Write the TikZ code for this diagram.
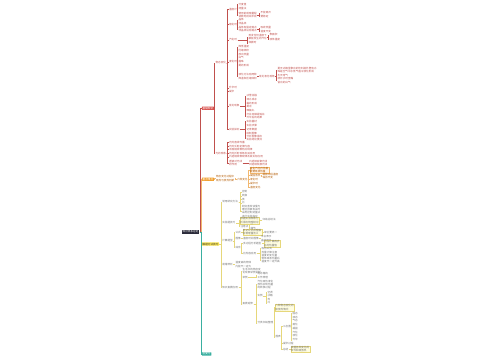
\documentclass[tikz,border=0pt]{standalone}
\usepackage{fontspec}
\newfontfamily\cjk{Noto Sans CJK SC}
\usetikzlibrary{positioning}
\definecolor{redline}{HTML}{C0504D}
\definecolor{redfill}{HTML}{D9534F}
\definecolor{orgfill}{HTML}{F0A030}
\definecolor{orgline}{HTML}{F2B870}
\definecolor{yelfill}{HTML}{F5E04A}
\definecolor{yelline}{HTML}{E6D77A}
\definecolor{tealline}{HTML}{3AAFA0}
\definecolor{rootfill}{HTML}{2B2B3A}
\tikzset{
  every node/.style={font=\cjk\fontsize{2.6}{3.2}\selectfont, inner sep=0.4pt, anchor=west, align=left},
  rootbox/.style={fill=rootfill, text=white, inner xsep=1pt, inner ysep=0.5pt},
  topbox/.style={fill=#1, text=white, inner xsep=0.8pt, rounded corners=0.3pt},
  rtx/.style={text=redline},
  otx/.style={text=orange!70!black},
  obx/.style={text=orange!70!black, fill=orange!8, draw=orgline, line width=0.15pt},
  ytx/.style={text=black!55},
  ybx/.style={text=black!55, fill=yellow!12, draw=yelline, line width=0.15pt},
  rl/.style={draw=redline, line width=0.3pt},
  ol/.style={draw=orgline, line width=0.3pt},
  yl/.style={draw=yelline, line width=0.3pt},
  tl/.style={draw=tealline, line width=0.4pt},
}
% parent -> children, elbow one point left of the children
\newcommand\links[3]{\foreach \kid in {#3}{%
  \path (\kid.west) ++(-1,0) coordinate (sp);
  \path[#1] (#2.east) -- (sp |- #2.east) |- (\kid.west);}}

\begin{document}
\begin{tikzpicture}[x=1pt,y=-1pt]
\useasboundingbox (0,0) rectangle (500,360);
% root and main branches
\node[rootbox] (root) at (181.5,232) {知识体系总览};
\node[topbox=redfill] (r) at (201.7,108.3) {基础知识};
\node[topbox=orgfill] (o) at (201.7,179.3) {重点难点};
\node[topbox=yelfill, text=black!75] (y) at (201.7,244) {解题方法技巧};
\node[topbox=tealline] (g) at (201.7,354) {总复习};
\links{ol}{root}{o}
\links{yl}{root}{y}
\links{rl, line width=0.45pt}{root}{r}
\links{tl}{root}{g}

% red branch
\node[rtx] (ra) at (215,62.7) {物态变化};
\node[rtx] (rb) at (215,153.3) {光的现象};
\links{rl}{r}{ra,rb}
\node[rtx] (ra1) at (228.5,9.3) {温度计};
\node[rtx] (ra2) at (228.5,24.3) {熔化时};
\node[rtx] (ra3) at (228.5,40) {汽化时};
\node[rtx] (ra4) at (228.5,61.7) {液化时};
\node[rtx] (ra5) at (228.5,88) {升华时};
\node[rtx] (ra6) at (228.5,91.5) {凝华};
\node[rtx] (ra7) at (228.5,106) {常见现象};
\node[rtx] (ra8) at (228.5,129.3) {实验探究};
\links{rl}{ra}{ra1,ra2,ra3,ra4,ra5,ra6,ra7,ra8}
% thermometer
\node[rtx] (ra11) at (238,4.3) {分度值};
\node[rtx] (ra12) at (238,8.3) {测量法};
\node[rtx] (ra13) at (238,15) {使用前观察量程\\读数时视线平视};
\links{rl}{ra1}{ra11,ra12,ra13}
\node[rtx] (ra131) at (260,12.7) {不能离开};
\node[rtx] (ra132) at (260,16.3) {要稳定};
\links{rl}{ra13}{ra131,ra132}
% melting
\node[rtx] (ra21) at (238,20) {晶体};
\node[rtx] (ra22) at (238,24) {非晶体};
\node[rtx] (ra23) at (238,29.3) {晶体有固定熔点\\非晶体没有熔点};
\links{rl}{ra2}{ra21,ra22,ra23}
\node[rtx] (ra231) at (260,27.7) {吸收热量};
\node[rtx] (ra232) at (260,31.3) {温度不变};
\links{rl}{ra23}{ra231,ra232}
% boiling
\node[rtx] (ra31) at (248,36.7) {蒸发任何温度下\\都能发生的汽化};
\node[rtx] (ra32) at (248,42.7) {沸腾时};
\links{rl}{ra3}{ra31,ra32}
\node[rtx] (ra311) at (269,35) {表面积};
\node[rtx] (ra312) at (269,39.3) {液体温度};
\links{rl}{ra31}{ra311,ra312}
% liquefying
\node[rtx] (ra41) at (238,46.7) {降低温度};
\node[rtx] (ra42) at (238,50.7) {压缩体积};
\node[rtx] (ra43) at (238,54.2) {放出热量};
\node[rtx] (ra44) at (238,57.9) {白气};
\node[rtx] (ra45) at (238,61.7) {露珠};
\node[rtx] (ra46) at (238,65.7) {雾的形成};
\node[rtx] (ra47) at (238,76.5) {液化方法有两种\\降温和压缩体积};
\links{rl}{ra4}{ra41,ra42,ra43,ra44,ra45,ra46,ra47}
\node[rtx] (ra471) at (258.5,76.5) {常见液化现象};
\links{rl}{ra47}{ra471}
\node[rtx] (ra4711) at (277,70) {夏天冰箱里拿出的饮料瓶外壁有水\\珠是空气中水蒸气遇冷液化形成};
\node[rtx] (ra4712) at (277,75.5) {冬天哈气};
\node[rtx] (ra4713) at (277,80.5) {烧开水时壶嘴\\冒出的白气};
\links{rl}{ra471}{ra4711,ra4712,ra4713}
% phenomena
\node[rtx] (ra71) at (246,95.7) {冰雪消融};
\node[rtx] (ra72) at (246,99.7) {滴水成冰};
\node[rtx] (ra73) at (246,103.3) {霜的形成};
\node[rtx] (ra74) at (246,106.9) {雾凇};
\node[rtx] (ra75) at (246,110.5) {樟脑丸};
\node[rtx] (ra76) at (246,116) {灯丝变细是钨丝\\升华后的结果};
\links{rl}{ra7}{ra71,ra72,ra73,ra74,ra75,ra76}
% experiment
\node[rtx] (ra81) at (246,121) {实验器材};
\node[rtx] (ra82) at (246,125) {实验步骤};
\node[rtx] (ra83) at (246,129.3) {记录数据};
\node[rtx] (ra84) at (246,133.3) {绘制图像};
\node[rtx] (ra85) at (246,137.8) {分析图像得出\\实验结论要点};
\links{rl}{ra8}{ra81,ra82,ra83,ra84,ra85}
% light
\node[rtx] (rb1) at (228.5,142.3) {光的直线传播};
\node[rtx] (rb2) at (228.5,146) {光的反射定律内容};
\node[rtx] (rb3) at (228.5,149.5) {平面镜成像特点规律};
\node[rtx] (rb4) at (228.5,153.1) {光的折射现象及其应用};
\node[rtx] (rb5) at (228.5,156.8) {凸透镜成像规律及其实际应用};
\node[rtx] (rb6) at (228.5,163.3) {透镜对光线\\的作用};
\links{rl}{rb}{rb1,rb2,rb3,rb4,rb5,rb6}
\node[rtx] (rb61) at (248.5,163.3) {凸透镜会聚光线\\凹透镜发散光线};
\links{rl}{rb6}{rb61}

% orange branch
\node[otx] (o1) at (215.5,178.5) {物态变化过程中\\吸热与放热判断};
\links{ol}{o}{o1}
\node[otx] (o11) at (236.5,179.3) {六种变化};
\links{ol}{o1}{o11}
\node[obx] (o111) at (249.5,170.3) {熔化汽化升华都\\需要吸收热量};
\node[otx] (o112) at (249.5,175.3) {凝固放热};
\node[otx] (o113) at (249.5,179.3) {液化时};
\node[otx] (o114) at (249.5,183.3) {凝华时};
\node[otx] (o115) at (249.5,187.3) {温度变化};
\links{ol}{o11}{o111,o112,o113,o114,o115}
\node[otx] (o1121) at (262,176.2) {凝固过程温度\\保持不变};
\links{ol}{o112}{o1121}

% yellow branch
\node[ytx] (ya) at (221.7,201.7) {常用研究方法};
\node[ytx] (yb) at (221.7,222.7) {实验题技巧};
\node[ytx] (yc) at (221.7,240.7) {计算题型};
\node[ytx] (yd) at (221.7,264.3) {易错辨析};
\node[ytx] (ye) at (221.7,287.3) {知识拓展应用};
\links{yl}{y}{ya,yb,yc,yd,ye}
% methods
\node[ytx] (ya1) at (241.5,191.7) {控制};
\node[ytx] (ya2) at (241.5,195.7) {转换};
\node[ytx] (ya3) at (241.5,199.3) {类};
\node[ytx] (ya4) at (241.5,203) {比};
\node[ytx] (ya5) at (241.5,211.2) {研究蒸发快慢与\\哪些因素有关时\\采用控制变量法\\进行实验探究};
\links{yl}{ya}{ya1,ya2,ya3,ya4,ya5}
% experiments
\node[ybx] (yb1) at (240,220.5) {根据实验现象分\\析得出物理结论};
\node[ytx] (yb2) at (240,226.5) {注意点};
\links{yl}{yb}{yb1,yb2}
\node[ytx] (yb11) at (262,220) {归纳总结法};
\links{yl}{yb1}{yb11}
\node[ytx] (yb21) at (250,224.5) {一};
\node[ytx] (yb22) at (250,228.5) {细节};
\links{yl}{yb2}{yb21,yb22}
% calculations
\node[ytx] (yc1) at (235,232.3) {公式};
\node[ytx] (yc2) at (235,238.3) {图像};
\node[ytx] (yc3) at (235,247.3) {综合};
\links{yl}{yc}{yc1,yc2,yc3}
\node[ybx] (yc11) at (242.5,232) {熟记公式并理解\\各物理量含义};
\links{yl}{yc1}{yc11}
\node[ytx] (yc111) at (263.5,232) {单位要统一};
\links{yl}{yc11}{yc111}
\node[ytx] (yc21) at (242.5,238.3) {温度时间图像};
\links{yl}{yc2}{yc21}
\node[ytx] (yc211) at (260.5,238.5) {平台表示\\晶体熔化};
\links{yl}{yc21}{yc211}
\node[ytx] (yc31) at (242.5,243.6) {多过程分析题型};
\node[ytx] (yc32) at (242.5,253.3) {比热容应用};
\links{yl}{yc3}{yc31,yc32}
\node[ybx] (yc311) at (263.5,243.6) {分段计算再求\\总的热量值};
\links{yl}{yc31}{yc311}
\node[ytx] (yc321) at (261,248.6) {吸热公式};
\node[ytx] (yc322) at (261,253.6) {热量计算注意\\温度的变化量};
\node[ytx] (yc323) at (261,260.2) {物体吸收热量后\\温度不一定升高};
\links{yl}{yc32}{yc321,yc322,yc323}
% mistakes
\node[ytx] (yd1) at (235,264.5) {温度高的物体\\内能不一定大};
\links{yl}{yd}{yd1}
% extension
\node[ytx] (ye1) at (242,270.7) {生活中的物态变\\化现象举例说明};
\node[ytx] (ye2) at (242,277.3) {举例};
\node[ytx] (ye3) at (242,304) {拓展延伸};
\links{yl}{ye}{ye1,ye2,ye3}
\node[ytx] (ye21) at (257,275.5) {电冰箱的\\工作原理};
\links{yl}{ye2}{ye21}
\node[ytx] (ye31) at (257,284.5) {汽化吸热液化\\放热实现热量\\的转移过程};
\node[ytx] (ye32) at (257,295.8) {实例};
\node[ytx] (ye33) at (257,322.7) {分类归纳整理};
\links{yl}{ye3}{ye31,ye32,ye33}
\node[ytx] (ye321) at (267,292.2) {空调};
\node[ytx] (ye322) at (267,295.8) {冰箱};
\node[ytx] (ye323) at (267,299.4) {热};
\node[ytx] (ye324) at (267,303) {冷};
\links{yl}{ye32}{ye321,ye322,ye323,ye324}
\node[ybx] (ye331) at (275,307.5) {六种物态变化的\\吸放热情况};
\node[ytx] (ye332) at (275,336.7) {图表};
\links{yl}{ye33}{ye331,ye332}
\node[ytx] (ye3321) at (282.5,326) {三态图};
\node[ytx] (ye3322) at (282.5,343.3) {凝华过程};
\node[ytx] (ye3323) at (282.5,349.3) {总结};
\links{yl}{ye332}{ye3321,ye3322,ye3323}
\foreach \nm [count=\i] in {固态,液态,气态,熔化,凝固,汽化,液化,升华}
  \node[ytx] (st\i) at (292,309.5+3.78*\i) {\nm};
\links{yl}{ye3321}{st1,st2,st3,st4,st5,st6,st7,st8}
\node[ybx] (ye33231) at (290.5,348.8) {掌握各种变化的\\条件和吸放热};
\links{yl}{ye3323}{ye33231}
\end{tikzpicture}
\end{document}
